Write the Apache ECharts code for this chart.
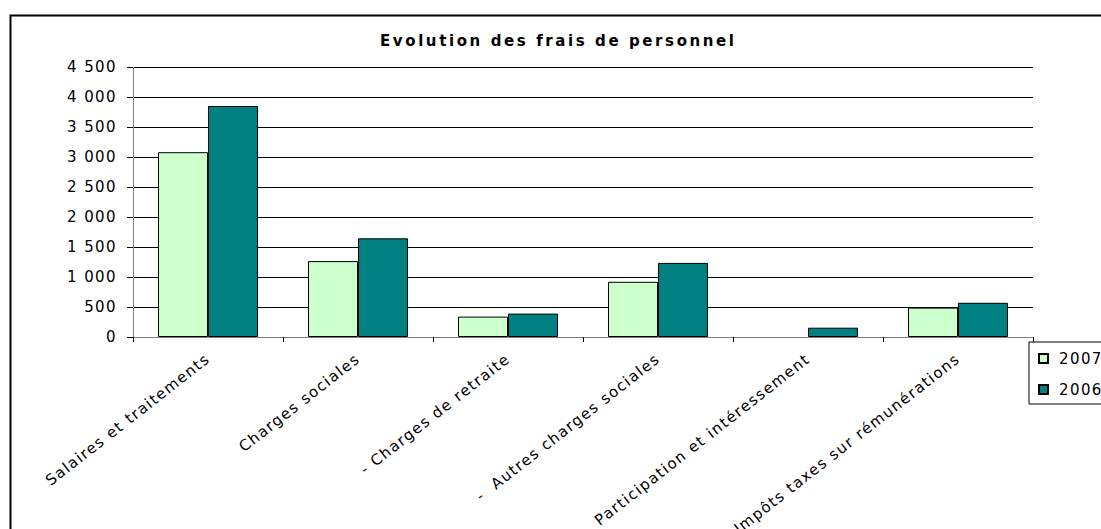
<!DOCTYPE html>
<html lang="fr">
<head>
    <meta charset="UTF-8">
    <title>Evolution des frais de personnel</title>
    <script src="https://cdn.jsdelivr.net/npm/echarts@6/dist/echarts.min.js"></script>
    <style>
        html, body { margin: 0; padding: 0; background: #fff; overflow: hidden; }
        /* les textes Excel sont plus larges : on espace un peu les lettres */
        #main text { letter-spacing: 1.4px; }
        #main text[style*="bold"] { letter-spacing: 2.6px; }
    </style>
</head>
<body>
<div id="main" style="width: 1101px;height:529px;"></div>
<script type="text/javascript">
    var categories = ['Salaires et traitements', 'Charges sociales', '- Charges de retraite',
        '-  Autres charges sociales', 'Participation et intéressement', 'Impôts taxes sur rémunérations'];
    var values2007 = [3080, 1265, 340, 920, '-', 490];
    var values2006 = [3850, 1645, 390, 1235, 155, 570];
    var yTicks = [0, 500, 1000, 1500, 2000, 2500, 3000, 3500, 4000, 4500];

    var font = 'DejaVu Sans';
    var myChart = echarts.init(document.getElementById('main'), null, {renderer: 'svg'});

    myChart.setOption({
        animation: false,
        backgroundColor: '#fff',
        title: {
            text: 'Evolution des frais de personnel',
            left: 380,
            top: 33,
            padding: 0,
            textStyle: {fontFamily: font, fontSize: 15, fontWeight: 'bold', color: '#000'}
        },
        graphic: [{
            type: 'rect',
            left: 8,
            top: 13,
            shape: {width: 1200, height: 600},
            style: {fill: 'none', stroke: '#000', lineWidth: 2},
            silent: true
        }],
        legend: {
            data: ['2007', '2006'],
            orient: 'vertical',
            left: 1029,
            top: 342,
            padding: [9, 10, 7, 9],
            itemWidth: 9,
            itemHeight: 9,
            itemGap: 16,
            icon: 'rect',
            borderColor: '#000',
            borderWidth: 1,
            backgroundColor: '#fff',
            textStyle: {fontFamily: font, fontSize: 15, color: '#000', padding: [0, 0, 0, 6]}
        },
        grid: {left: 133, right: 68, top: 67, bottom: 192, containLabel: false},
        xAxis: {
            type: 'category',
            data: categories,
            axisLine: {lineStyle: {color: '#808080', width: 1}},
            axisTick: {show: true, length: 5, lineStyle: {color: '#000'}},
            axisLabel: {
                interval: 0,
                rotate: 38,
                margin: 20,
                fontFamily: font,
                fontSize: 15,
                color: '#000'
            }
        },
        yAxis: {
            type: 'value',
            min: yTicks[0],
            max: yTicks[yTicks.length - 1],
            interval: 500,
            axisLine: {show: true, lineStyle: {color: '#808080', width: 1}},
            axisTick: {show: true, inside: false, length: 6, lineStyle: {color: '#000'}},
            splitLine: {lineStyle: {color: '#000', width: 1}},
            axisLabel: {
                margin: 16,
                fontFamily: font,
                fontSize: 15,
                color: '#000',
                formatter: function (v) {
                    return String(v).replace(/\B(?=(\d{3})+(?!\d))/g, ' ');
                }
            }
        },
        series: [{
            name: '2007',
            type: 'bar',
            data: values2007,
            barWidth: 50,
            barGap: '0%',
            itemStyle: {color: '#CCFFCC', borderColor: '#000', borderWidth: 1}
        }, {
            name: '2006',
            type: 'bar',
            data: values2006,
            barWidth: 50,
            itemStyle: {color: '#008080', borderColor: '#000', borderWidth: 1}
        }]
    });
</script>
</body>
</html>
